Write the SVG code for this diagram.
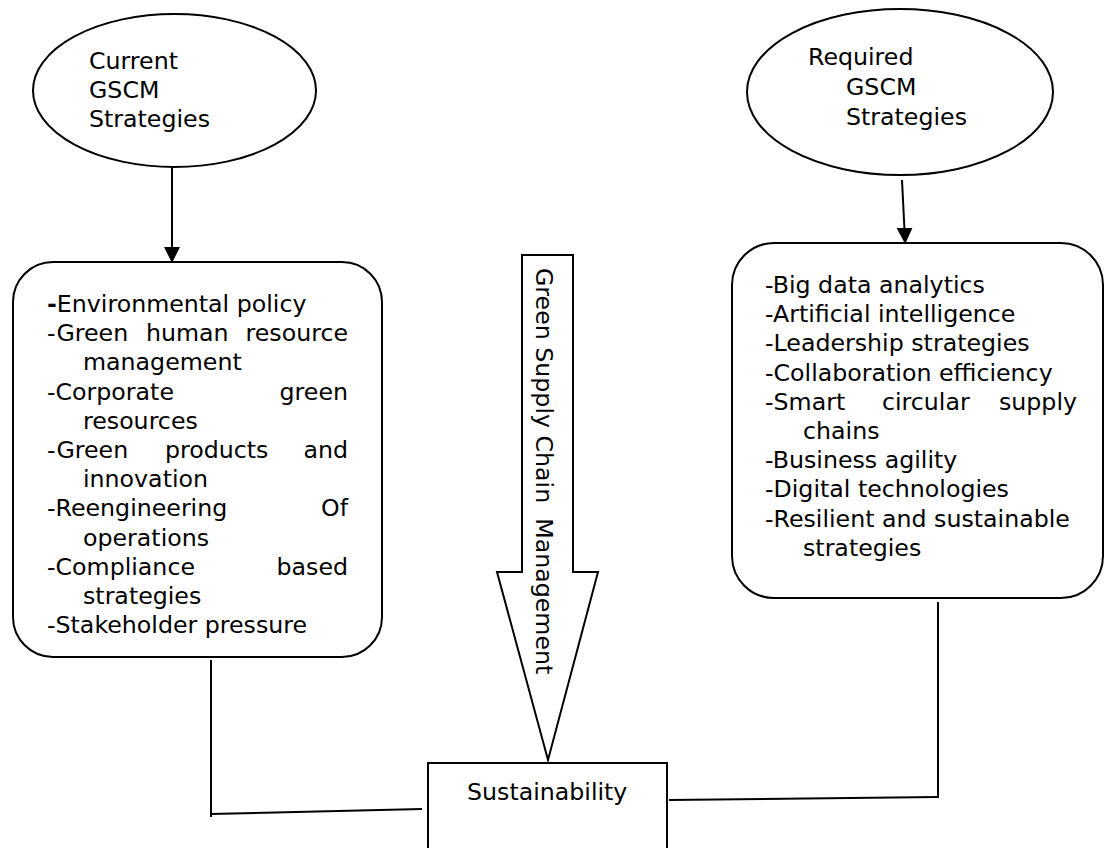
<svg xmlns="http://www.w3.org/2000/svg" width="1105" height="848" viewBox="0 0 1105 848">
<style>
.t{font-family:"DejaVu Sans","Verdana",sans-serif;font-size:23.7px;fill:#000}
.s{fill:#fff;stroke:#000;stroke-width:2}
.c{fill:none;stroke:#000;stroke-width:2}
</style>
<defs>
<marker id="ah" markerWidth="8" markerHeight="8" refX="7.5" refY="4" orient="auto" markerUnits="userSpaceOnUse" viewBox="0 0 8 8">
<path d="M0,0 L8,4 L0,8 z" fill="#000"/>
</marker>
</defs>
<rect width="1105" height="848" fill="#fff"/>
<g id="connectors">
<line class="c" x1="172" y1="167" x2="172" y2="247"/>
<path d="M164,247 L180,247 L172,263 z" fill="#000"/>
<line class="c" x1="902" y1="180" x2="904.4" y2="228"/>
<path d="M896.6,228 L912.4,228 L905.2,244 z" fill="#000"/>
<polyline class="c" points="211,660 211,817"/>
<line class="c" x1="210" y1="814" x2="422" y2="809"/>
<line class="c" x1="669" y1="800" x2="938" y2="797"/>
<line class="c" x1="938" y1="602" x2="938" y2="798"/>
</g>
<g id="current">
<ellipse class="s" cx="174.5" cy="90.5" rx="141.5" ry="76.5"/>
<text class="t" x="89" y="69">Current</text>
<text class="t" x="89" y="98">GSCM</text>
<text class="t" x="89" y="127">Strategies</text>
</g>
<g id="required">
<ellipse class="s" cx="900" cy="92" rx="153" ry="83"/>
<text class="t" x="808" y="65">Required</text>
<text class="t" x="846" y="95">GSCM</text>
<text class="t" x="846" y="125">Strategies</text>
</g>
<g id="current-list">
<rect class="s" x="13" y="262" width="369" height="395" rx="40" ry="40"/>
<text class="t" x="47" y="312"><tspan font-weight="bold">-</tspan>Environmental policy</text>
<text class="t" x="47" y="341.2">-Green</text>
<text class="t" x="146" y="341.2">human</text>
<text class="t" x="348" y="341.2" text-anchor="end">resource</text>
<text class="t" x="83" y="370.4">management</text>
<text class="t" x="47" y="399.6">-Corporate</text>
<text class="t" x="348" y="399.6" text-anchor="end">green</text>
<text class="t" x="83" y="428.8">resources</text>
<text class="t" x="47" y="458">-Green</text>
<text class="t" x="165" y="458">products</text>
<text class="t" x="348" y="458" text-anchor="end">and</text>
<text class="t" x="83" y="487.2">innovation</text>
<text class="t" x="47" y="516.4">-Reengineering</text>
<text class="t" x="348" y="516.4" text-anchor="end">Of</text>
<text class="t" x="83" y="545.6">operations</text>
<text class="t" x="47" y="574.8">-Compliance</text>
<text class="t" x="348" y="574.8" text-anchor="end">based</text>
<text class="t" x="83" y="604">strategies</text>
<text class="t" x="47" y="633.2">-Stakeholder pressure</text>
</g>
<g id="required-list">
<rect class="s" x="732" y="243" width="371" height="355" rx="42" ry="42"/>
<text class="t" x="765" y="293">-Big data analytics</text>
<text class="t" x="765" y="322.2">-Artificial intelligence</text>
<text class="t" x="765" y="351.4">-Leadership strategies</text>
<text class="t" x="765" y="380.6">-Collaboration efficiency</text>
<text class="t" x="765" y="409.8">-Smart</text>
<text class="t" x="882" y="409.8">circular</text>
<text class="t" x="1077" y="409.8" text-anchor="end">supply</text>
<text class="t" x="803" y="439">chains</text>
<text class="t" x="765" y="468.2">-Business agility</text>
<text class="t" x="765" y="497.4">-Digital technologies</text>
<text class="t" x="765" y="526.6">-Resilient and sustainable</text>
<text class="t" x="803" y="555.8">strategies</text>
</g>
<g id="gscm-arrow">
<polygon class="s" points="522,255 573,255 573,572 598,572 548,760 497,572 522,572"/>
<text class="t" xml:space="preserve" transform="translate(536,268) rotate(90)">Green Supply Chain  Management</text>
</g>
<g id="sustainability">
<rect class="s" x="428" y="763" width="239" height="100"/>
<text class="t" x="467" y="800">Sustainability</text>
</g>
</svg>
